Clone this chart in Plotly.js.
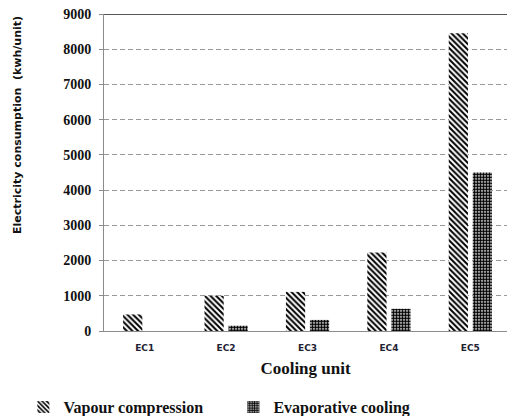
<!DOCTYPE html>
<html>
<head>
<meta charset="utf-8">
<script src="https://cdn.plot.ly/plotly-3.0.1.min.js"></script>
<style>html,body{margin:0;padding:0;background:#fff;}#chart{width:508px;height:416px;}</style>
</head>
<body>
<div id="chart"></div>
<script>
var categories = ["EC1", "EC2", "EC3", "EC4", "EC5"];
var vapourCompression = [470, 1000, 1110, 2230, 8450];
var evaporativeCooling = [0, 150, 315, 630, 4500];
var yTickValues = [0, 1000, 2000, 3000, 4000, 5000, 6000, 7000, 8000, 9000];
var seriesNames = ["Vapour compression", "Evaporative cooling"];
var yTitle = "Electricity consumption  (kwh/unit)";
var xTitle = "Cooling unit";

var serifBold = "'Liberation Serif', 'Times New Roman', serif";

var traces = [
  {
    type: "bar", name: seriesNames[0], x: categories, y: vapourCompression,
    marker: {color: "#ffffff", line: {width: 0},
      pattern: {shape: "\\", fgcolor: "#000000", bgcolor: "#ffffff", size: 4, solidity: 0.5}}
  },
  {
    type: "bar", name: seriesNames[1], x: categories, y: evaporativeCooling,
    marker: {color: "#ffffff", line: {width: 0},
      pattern: {shape: ".", fgcolor: "#000000", bgcolor: "#ffffff", size: 3, solidity: 0.7}}
  }
];

var layout = {
  width: 508, height: 416,
  margin: {l: 104, r: 1, t: 14, b: 85, autoexpand: false},
  paper_bgcolor: "#ffffff", plot_bgcolor: "#ffffff",
  barmode: "group", bargap: 0.41, bargroupgap: 0.2,
  showlegend: true,
  legend: {orientation: "h", x: -0.2, xanchor: "left", y: -0.24, yanchor: "middle",
    font: {family: serifBold, size: 16, color: "#111111", weight: "bold"},
    entrywidth: 165, entrywidthmode: "pixels", bgcolor: "rgba(0,0,0,0)"},
  xaxis: {
    type: "category", range: [-0.5, 4.45], showgrid: false,
    showline: true, linecolor: "#8c8c8c", linewidth: 1, ticks: "",
    tickfont: {family: "'DejaVu Sans', sans-serif", size: 9, color: "#222233", weight: "bold"},
    ticklabelstandoff: 8,
    title: {text: "<b>" + xTitle + "</b>", standoff: 10,
      font: {family: serifBold, size: 17, color: "#111111"}}
  },
  yaxis: {
    range: [0, 9000], tickvals: yTickValues, ticktext: yTickValues.map(function(v){return "<b>" + v + "</b>";}),
    showgrid: true, gridcolor: "#999999", gridwidth: 1, griddash: "5px,3px",
    zeroline: false, showline: true, linecolor: "#8c8c8c", linewidth: 1,
    ticks: "outside", ticklen: 4, tickcolor: "#8c8c8c",
    ticklabelstandoff: 5,
    tickfont: {family: serifBold, size: 14, color: "#111111"}
  },
  annotations: [
    {text: "<b>" + yTitle + "</b>", textangle: -90, xref: "paper", yref: "paper",
     x: -86 / 403, y: 0.65, xanchor: "center", yanchor: "middle", showarrow: false,
     font: {family: "'DejaVu Sans', sans-serif", size: 11, color: "#111111"}}
  ],
  shapes: [
    {type: "line", xref: "paper", yref: "y", x0: 0, x1: 1, y0: 9000, y1: 9000,
     line: {color: "#555555", width: 2}}
  ]
};

Plotly.newPlot("chart", traces, layout, {displayModeBar: false, staticPlot: true});
</script>
</body>
</html>
